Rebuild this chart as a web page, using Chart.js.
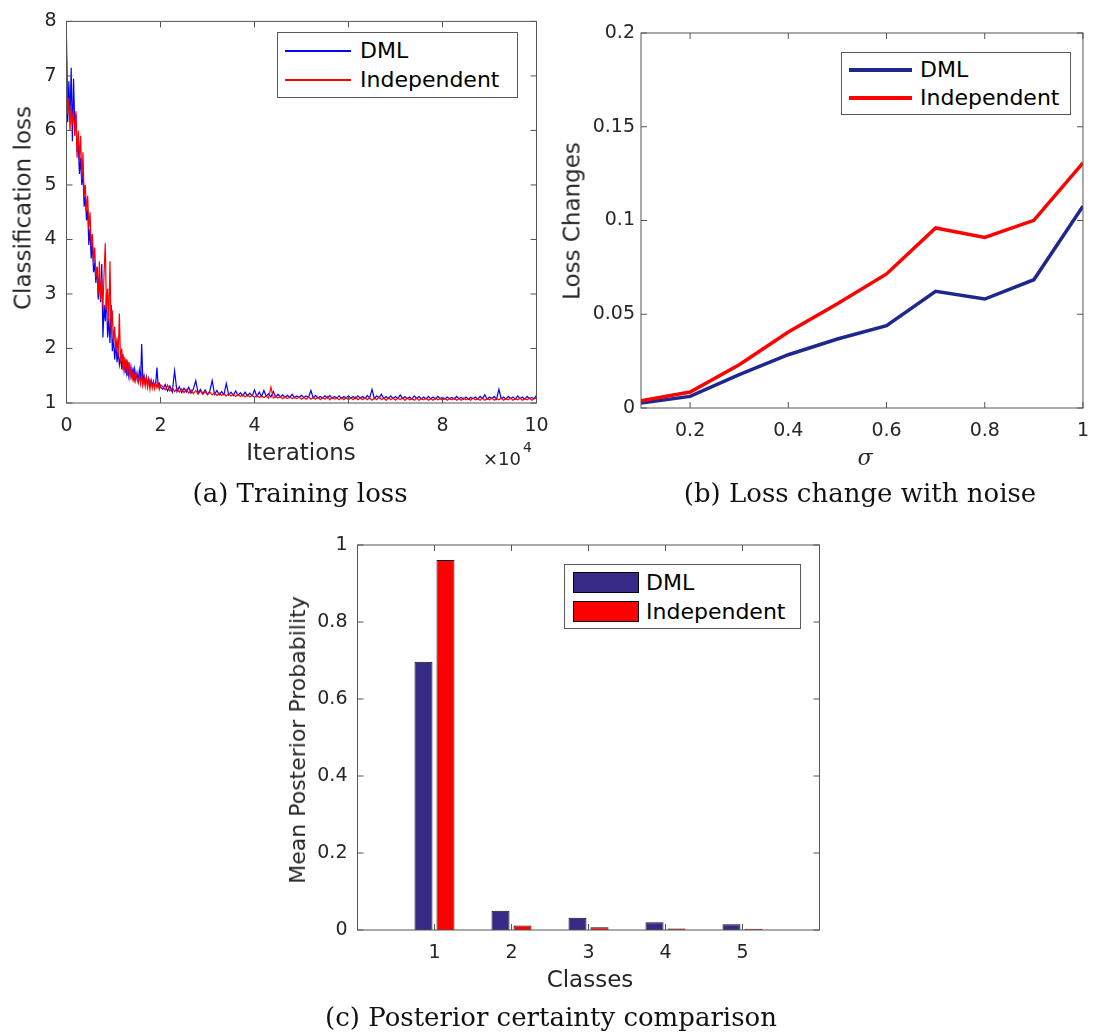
<!DOCTYPE html>
<html>
<head>
<meta charset="utf-8">
<script src="https://cdn.jsdelivr.net/npm/chart.js@4.4.1/dist/chart.umd.min.js"></script>
<style>
html,body{margin:0;padding:0;background:#fff;}
#page{position:relative;width:1101px;height:1036px;overflow:hidden;background:#fff;}
canvas{position:absolute;left:0;top:0;}
.t{position:absolute;white-space:nowrap;line-height:1;font-family:'DejaVu Sans',sans-serif;color:#262626;font-size:22px;}
.ax{font-size:23px;}
.c{transform:translate(-50%,-50%);}
.r{transform:translate(-50%,-50%) rotate(-90deg);}
.l{transform:translateY(-50%);}
.cap{font-family:'DejaVu Serif',serif;font-size:26px;color:#111;}
.lg{position:absolute;border:1px solid #5a5a5a;background:#fff;box-sizing:border-box;}
.sw{position:absolute;}
</style>
</head>
<body>
<div id="page">
<canvas id="ca" width="1101" height="1036"></canvas>
<canvas id="cb" width="1101" height="1036"></canvas>
<canvas id="cc" width="1101" height="1036"></canvas>

<!-- chart (a) texts -->
<div class="t r ax" style="left:23px;top:208px;">Classification loss</div>
<div class="t c ax" style="left:301px;top:452px;">Iterations</div>
<div class="t l" style="left:483px;top:459px;font-size:18px;">×10</div>
<div class="t l" style="left:523px;top:447px;font-size:14px;">4</div>
<div class="lg" style="left:277px;top:32px;width:241px;height:66px;"></div>
<div class="sw" style="left:285px;top:50px;width:66px;height:2px;background:#0000ff;"></div>
<div class="sw" style="left:285px;top:79px;width:66px;height:2px;background:#ff0000;"></div>
<div class="t l" style="left:360px;top:51px;color:#000;">DML</div>
<div class="t l" style="left:360px;top:80px;color:#000;">Independent</div>
<div class="t c cap" style="left:300px;top:493px;">(a) Training loss</div>

<!-- chart (b) texts -->
<div class="t r ax" style="left:572px;top:221px;">Loss Changes</div>
<div class="t c" style="left:865px;top:458px;font-family:'DejaVu Serif',serif;font-style:italic;">σ</div>
<div class="lg" style="left:841px;top:52px;width:230px;height:63px;"></div>
<div class="sw" style="left:849px;top:68px;width:63px;height:4px;background:rgb(30,40,140);"></div>
<div class="sw" style="left:849px;top:96px;width:63px;height:4px;background:#ff0000;"></div>
<div class="t l" style="left:920px;top:70px;color:#000;">DML</div>
<div class="t l" style="left:920px;top:98px;color:#000;">Independent</div>
<div class="t c cap" style="left:860px;top:493px;">(b) Loss change with noise</div>

<!-- chart (c) texts -->
<div class="t r" style="left:298px;top:740px;">Mean Posterior Probability</div>
<div class="t c ax" style="left:590px;top:979px;">Classes</div>
<div class="lg" style="left:564px;top:564px;width:237px;height:65px;"></div>
<div class="sw" style="left:573px;top:572px;width:66px;height:21px;background:rgb(53,42,134);border:1px solid #000;box-sizing:border-box;"></div>
<div class="sw" style="left:573px;top:601px;width:66px;height:21px;background:#ff0000;border:1px solid #000;box-sizing:border-box;"></div>
<div class="t l" style="left:646px;top:583px;color:#000;">DML</div>
<div class="t l" style="left:646px;top:612px;color:#000;">Independent</div>
<div class="t c cap" style="left:551px;top:1017px;">(c) Posterior certainty comparison</div>
</div>

<script>
// ---------- (a) Training loss ----------
const aIter = [
0,250,500,750,1000,1250,1500,1750,
2000,2250,2500,2750,3000,3250,3500,3750,
4000,4250,4500,4750,5000,5250,5500,5750,
6000,6250,6500,6750,7000,7250,7500,7750,
8000,8250,8500,8750,9000,9250,9500,9750,
10000,10250,10500,10750,11000,11250,11500,11750,
12000,12250,12500,12750,13000,13250,13500,13750,
14000,14250,14500,14750,15000,15250,15500,15750,
16000,16250,16500,16750,17000,17250,17500,17750,
18000,18250,18500,18750,19000,19250,19500,19750,
20000,
20500,21000,21500,22000,22500,23000,23500,24000,24500,25000,
25500,26000,26500,27000,27500,28000,28500,29000,29500,30000,
30500,31000,31500,32000,32500,33000,33500,34000,34500,35000,
35500,36000,36500,37000,37500,38000,38500,39000,39500,40000,
40500,41000,41500,42000,42500,43000,43500,44000,44500,45000,
45500,46000,46500,47000,47500,48000,48500,49000,49500,50000,
50500,51000,51500,52000,52500,53000,53500,54000,54500,55000,
55500,56000,56500,57000,57500,58000,58500,59000,59500,60000,
60500,61000,61500,62000,62500,63000,63500,64000,64500,65000,
65500,66000,66500,67000,67500,68000,68500,69000,69500,70000,
70500,71000,71500,72000,72500,73000,73500,74000,74500,75000,
75500,76000,76500,77000,77500,78000,78500,79000,79500,80000,
80500,81000,81500,82000,82500,83000,83500,84000,84500,85000,
85500,86000,86500,87000,87500,88000,88500,89000,89500,90000,
90500,91000,91500,92000,92500,93000,93500,94000,94500,95000,
95500,96000,96500,97000,97500,98000,98500,99000,99500,100000];
const aDML = [
7.68,6.15,6.9,6.2,7.15,5.8,6.95,6.1,
6.3,5.6,5.75,5.2,5.5,5.0,5.25,4.6,
4.8,4.35,4.55,3.9,4.2,3.65,3.95,3.4,
3.55,3.2,3.5,2.9,3.3,2.85,3.55,2.2,
2.8,2.5,3.0,2.2,2.55,2.1,2.8,1.95,
2.2,1.8,2.1,1.75,1.95,1.7,1.85,1.62,
1.9,1.6,1.75,1.55,1.72,1.5,1.68,1.48,
1.6,1.45,1.62,1.42,1.55,1.4,1.6,1.4,
2.08,1.38,1.5,1.36,1.48,1.35,1.45,1.33,
1.42,1.32,1.4,1.31,1.38,1.65,1.3,1.36,
1.29,
1.25,1.34,1.22,1.31,1.2,1.59,1.21,1.3,1.19,1.27,
1.2,1.29,1.18,1.26,1.41,1.18,1.25,1.17,1.24,1.16,
1.22,1.41,1.16,1.23,1.15,1.21,1.15,1.36,1.15,1.2,
1.14,1.22,1.14,1.19,1.13,1.2,1.13,1.18,1.13,1.24,
1.12,1.2,1.12,1.23,1.12,1.17,1.11,1.21,1.11,1.16,
1.11,1.15,1.1,1.14,1.1,1.16,1.1,1.13,1.1,1.14,
1.1,1.13,1.1,1.23,1.09,1.14,1.09,1.12,1.09,1.13,
1.09,1.14,1.09,1.12,1.09,1.13,1.08,1.12,1.09,1.13,
1.09,1.12,1.08,1.13,1.09,1.12,1.08,1.14,1.09,1.25,
1.08,1.13,1.09,1.16,1.08,1.12,1.08,1.13,1.08,1.12,
1.08,1.15,1.08,1.12,1.08,1.11,1.07,1.13,1.08,1.12,
1.08,1.11,1.07,1.12,1.08,1.11,1.07,1.12,1.08,1.1,
1.07,1.11,1.08,1.1,1.07,1.12,1.08,1.1,1.07,1.11,
1.07,1.1,1.08,1.11,1.07,1.12,1.08,1.15,1.07,1.11,
1.08,1.12,1.07,1.25,1.08,1.11,1.07,1.12,1.08,1.11,
1.07,1.13,1.08,1.11,1.07,1.12,1.08,1.1,1.08,1.14];
const aInd = [
7.38,6.3,6.6,6.0,6.45,6.1,6.38,5.9,
6.35,5.5,6.0,5.45,5.9,5.1,5.6,4.8,
5.0,4.5,4.8,4.2,4.5,3.9,4.1,3.6,
3.85,3.3,3.5,3.0,3.6,2.9,3.3,2.75,
3.4,3.93,2.7,3.1,2.5,3.6,2.3,2.7,
2.1,2.4,1.95,2.2,1.85,2.64,1.75,2.0,
1.6,1.85,1.55,1.8,1.5,1.75,1.48,1.65,
1.45,1.6,1.42,1.55,1.48,1.38,1.5,1.35,
1.52,1.32,1.45,1.3,1.45,1.28,1.42,1.25,
1.4,1.27,1.38,1.26,1.38,1.28,1.35,1.25,
1.33,
1.3,1.24,1.33,1.22,1.28,1.21,1.27,1.2,1.26,1.19,
1.25,1.18,1.24,1.17,1.23,1.16,1.22,1.16,1.21,1.15,
1.2,1.15,1.19,1.14,1.18,1.14,1.17,1.13,1.17,1.13,
1.16,1.12,1.16,1.12,1.15,1.11,1.15,1.11,1.14,1.1,
1.14,1.1,1.13,1.1,1.13,1.09,1.29,1.09,1.12,1.09,
1.12,1.08,1.11,1.08,1.11,1.08,1.1,1.08,1.11,1.07,
1.1,1.07,1.11,1.07,1.1,1.07,1.11,1.06,1.1,1.07,
1.12,1.06,1.1,1.07,1.09,1.06,1.1,1.06,1.1,1.06,
1.09,1.06,1.11,1.06,1.09,1.06,1.1,1.06,1.09,1.05,
1.09,1.06,1.12,1.06,1.09,1.05,1.1,1.06,1.09,1.05,
1.09,1.06,1.1,1.05,1.09,1.06,1.08,1.05,1.09,1.05,
1.08,1.06,1.09,1.05,1.08,1.05,1.09,1.06,1.08,1.05,
1.09,1.05,1.08,1.06,1.09,1.05,1.08,1.05,1.09,1.06,
1.08,1.05,1.09,1.06,1.08,1.05,1.09,1.05,1.08,1.06,
1.09,1.05,1.08,1.06,1.09,1.05,1.08,1.06,1.09,1.05,
1.08,1.06,1.09,1.05,1.08,1.06,1.09,1.05,1.08,1.09];
const aXTicks = [0,20000,40000,60000,80000,100000];
const aXLabels = ['0','2','4','6','8','10'];
const aYTicks = [1,2,3,4,5,6,7,8];
const aYLabels = ['1','2','3','4','5','6','7','8'];

// ---------- (b) Loss change with noise ----------
const bSigma = [0.1,0.2,0.3,0.4,0.5,0.6,0.7,0.8,0.9,1.0];
const bDML = [0.0027,0.0062,0.0178,0.0284,0.0368,0.0439,0.0622,0.0581,0.0684,0.1076];
const bInd = [0.0039,0.0085,0.0231,0.0405,0.0556,0.0715,0.0960,0.0910,0.1001,0.1307];
const bXTicks = [0.2,0.4,0.6,0.8,1];
const bXLabels = ['0.2','0.4','0.6','0.8','1'];
const bYTicks = [0,0.05,0.1,0.15,0.2];
const bYLabels = ['0','0.05','0.1','0.15','0.2'];

// ---------- (c) Posterior certainty ----------
const cClasses = [1,2,3,4,5];
const cDML = [0.697,0.050,0.032,0.020,0.0147];
const cInd = [0.961,0.012,0.007,0.004,0.003];
const cXTicks = [1,2,3,4,5];
const cXLabels = ['1','2','3','4','5'];
const cYTicks = [0,0.2,0.4,0.6,0.8,1];
const cYLabels = ['0','0.2','0.4','0.6','0.8','1'];

function axis(min, max, ticks, labels, pad, size, horiz) {
  return {
    type: 'linear', min: min, max: max, offset: false,
    grid: {display: false, drawTicks: false, offset: false},
    border: {display: false},
    ticks: {
      autoSkip: false, maxRotation: 0, minRotation: 0, padding: pad,
      color: '#262626', font: {family: 'DejaVu Sans', size: 19},
      callback: (v, i) => labels[i]
    },
    afterBuildTicks: s => { s.ticks = ticks.map(v => ({value: v})); },
    afterFit: s => { if (horiz) { s.height = size; } else { s.width = size; } }
  };
}

const framePlugin = {
  id: 'frame',
  afterDatasetsDraw(chart) {
    const ctx = chart.ctx, a = chart.chartArea, sx = chart.scales.x, sy = chart.scales.y;
    const L = 6;
    ctx.save();
    ctx.strokeStyle = '#555';
    ctx.lineWidth = 1;
    ctx.beginPath();
    sx.ticks.forEach(t => {
      const p = sx.getPixelForValue(t.value);
      ctx.moveTo(p, a.bottom); ctx.lineTo(p, a.bottom - L);
      ctx.moveTo(p, a.top); ctx.lineTo(p, a.top + L);
    });
    sy.ticks.forEach(t => {
      const p = sy.getPixelForValue(t.value);
      ctx.moveTo(a.left, p); ctx.lineTo(a.left + L, p);
      ctx.moveTo(a.right, p); ctx.lineTo(a.right - L, p);
    });
    ctx.stroke();
    ctx.strokeRect(a.left, a.top, a.right - a.left, a.bottom - a.top);
    ctx.restore();
  }
};

function baseOptions(padding, xScale, yScale) {
  return {
    responsive: false, animation: false, devicePixelRatio: 1, events: [],
    layout: {padding: padding},
    plugins: {legend: {display: false}, tooltip: {enabled: false}},
    scales: {x: xScale, y: yScale}
  };
}

new Chart(document.getElementById('ca'), {
  type: 'line',
  data: {
    datasets: [
      {label: 'DML', data: aIter.map((x, i) => ({x: x, y: aDML[i]})), borderColor: '#0000ff', borderWidth: 1.2, pointRadius: 0, tension: 0, order: 1},
      {label: 'Independent', data: aIter.map((x, i) => ({x: x, y: aInd[i]})), borderColor: '#ff0000', borderWidth: 1.2, pointRadius: 0, tension: 0, order: 0}
    ]
  },
  options: baseOptions({left: 6.5, right: 564.5, top: 13, bottom: 593},
    axis(0, 100000, aXTicks, aXLabels, 12, 40, true),
    axis(1, 8, aYTicks, aYLabels, 10, 60, false)),
  plugins: [framePlugin]
});

new Chart(document.getElementById('cb'), {
  type: 'line',
  data: {
    datasets: [
      {label: 'DML', data: bSigma.map((x, i) => ({x: x, y: bDML[i]})), borderColor: 'rgb(30,40,140)', borderWidth: 3.5, pointRadius: 0, tension: 0, order: 1},
      {label: 'Independent', data: bSigma.map((x, i) => ({x: x, y: bInd[i]})), borderColor: '#ff0000', borderWidth: 3.5, pointRadius: 0, tension: 0, order: 0}
    ]
  },
  options: baseOptions({left: 581, right: 10, top: 33, bottom: 588},
    axis(0.1, 1, bXTicks, bXLabels, 12, 40, true),
    axis(0, 0.2, bYTicks, bYLabels, 6, 60, false)),
  plugins: [framePlugin]
});

new Chart(document.getElementById('cc'), {
  type: 'bar',
  data: {
    datasets: [
      {label: 'DML', data: cClasses.map((x, i) => ({x: x, y: cDML[i]})), backgroundColor: 'rgb(53,42,134)', borderColor: '#111', borderWidth: 1, categoryPercentage: 0.5714, barPercentage: 0.818},
      {label: 'Independent', data: cClasses.map((x, i) => ({x: x, y: cInd[i]})), backgroundColor: '#ff0000', borderColor: '#111', borderWidth: 1, categoryPercentage: 0.5714, barPercentage: 0.818}
    ]
  },
  options: baseOptions({left: 297.5, right: 281.5, top: 545, bottom: 66},
    axis(0, 6, cXTicks, cXLabels, 12, 40, true),
    axis(0, 1, cYTicks, cYLabels, 10, 60, false)),
  plugins: [framePlugin]
});
</script>
</body>
</html>
